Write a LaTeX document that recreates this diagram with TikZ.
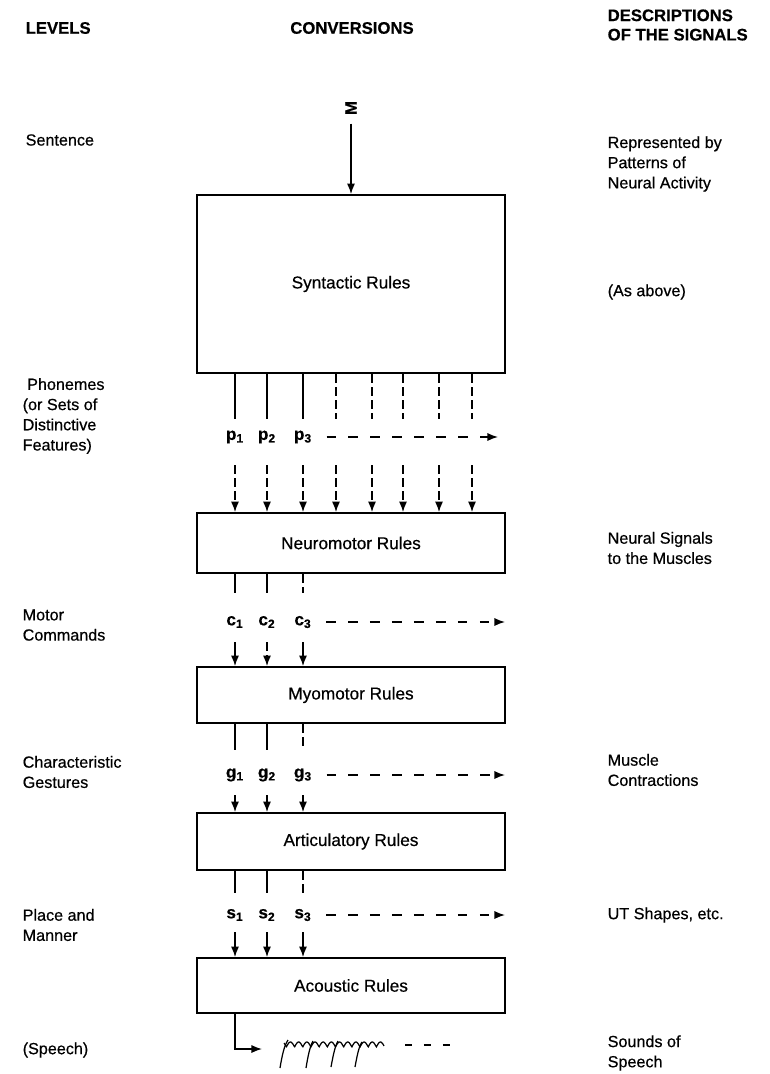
\documentclass[tikz,border=0pt]{standalone}
\usepackage{fontspec}
\setmainfont{Liberation Sans}[FakeBold=0.5]
\usetikzlibrary{arrows.meta}
\newcommand{\lvlfont}{\fontsize{9.2}{11.5}\selectfont}
\newcommand{\boxfont}{\fontsize{9.8}{11.5}\selectfont}
\newcommand{\headfont}{\fontsize{9.5}{11}\selectfont\bfseries}
\tikzset{
  rulebox/.style={draw, line width=1pt, minimum width=6.16cm, inner sep=0pt, font=\boxfont},
  txt/.style={anchor=west, align=left, inner sep=0pt, font=\lvlfont},
  head/.style={inner sep=0pt, font=\headfont},
  sig/.style={inner sep=1pt, font=\boxfont\bfseries},
  vdash/.style={dash pattern=on 5pt off 2.5pt},
  hdash/.style={dash pattern=on 5.5pt off 7pt},
}
\begin{document}
\begin{tikzpicture}[x=0.02cm, y=-0.02cm, >={Latex[length=6pt,width=4.6pt]}, line width=0.8pt]
  \useasboundingbox (0,0) rectangle (770,1074);

  % Column headings
  \node[head, anchor=west] (hlev) at (25,28) {LEVELS};
  \node[head] (hconv) at (352,28) {CONVERSIONS};
  \node[head, anchor=west, align=left] (hdesc) at (607,25) {DESCRIPTIONS\\OF THE SIGNALS};

  % Levels
  \node[txt] (lsent) at (25,140) {Sentence};
  \node[txt] (lphon) at (22,416) {\ Phonemes\\(or Sets of\\Distinctive\\Features)};
  \node[txt] (lmot) at (22,625) {Motor\\Commands};
  \node[txt] (lges) at (22,772) {Characteristic\\Gestures};
  \node[txt] (lpla) at (22,925) {Place and\\Manner};
  \node[txt] (lspe) at (22,1050) {(Speech)};

  % Descriptions
  \node[txt] (drep) at (607,164) {Represented by\\Patterns of\\Neural Activity};
  \node[txt] (dabo) at (607,292) {(As above)};
  \node[txt] (dneu) at (607,548) {Neural Signals\\to the Muscles};
  \node[txt] (dmus) at (607,770) {Muscle\\Contractions};
  \node[txt] (dshp) at (607,915) {UT Shapes, etc.};
  \node[txt] (dsnd) at (607,1053) {Sounds of\\Speech};

  % Rule boxes
  \node[rulebox, minimum height=3.56cm] (syn) at (351,284) {Syntactic Rules};
  \node[rulebox, minimum height=1.2cm] (neuro) at (351,543) {Neuromotor Rules};
  \node[rulebox, minimum height=1.12cm] (myo) at (351,695) {Myomotor Rules};
  \node[rulebox, minimum height=1.14cm] (art) at (351,841.5) {Articulatory Rules};
  \node[rulebox, minimum height=1.1cm] (aco) at (351,985.5) {Acoustic Rules};

  % Message input
  \node[head, rotate=90] (msg) at (351,108) {M};
  \draw[->] (msg.west) ++(0,8) -- (syn.north);

  % Phonemes
  \foreach \x/\s [count=\i] in {235/solid,267/solid,303/solid,336/vdash,372/vdash,403/vdash,439/vdash,472/vdash} {
    \coordinate (pt\i) at (\x,419);
    \coordinate (pb\i) at (\x,465);
    \draw[\s] (syn.south -| pt\i) -- (pt\i);
    \draw[vdash,->] (pb\i) -- (neuro.north -| pb\i);
  }
  \foreach \x [count=\i] in {235,267,303} \node[sig] (p\i) at (\x,437) {p\textsubscript{\i}};
  \coordinate (pend) at (498,437);
  \draw[hdash,->] (p3.east) ++(12,0) -- (pend);

  % Motor commands
  \foreach \x/\s/\t [count=\i] in {235/solid/solid,267/solid/vdash,303/vdash/solid} {
    \coordinate (ct\i) at (\x,593);
    \coordinate (cb\i) at (\x,642);
    \draw[\s] (neuro.south -| ct\i) -- (ct\i);
    \draw[\t,->] (cb\i) -- (myo.north -| cb\i);
    \node[sig] (c\i) at (\x,622) {c\textsubscript{\i}};
  }
  \coordinate (cend) at (505,622);
  \draw[hdash,->] (c3.east) ++(12,0) -- (cend);

  % Gestures
  \foreach \x/\s [count=\i] in {235/solid,267/solid,303/vdash} {
    \coordinate (gt\i) at (\x,750);
    \coordinate (gb\i) at (\x,795);
    \draw[\s] (myo.south -| gt\i) -- (gt\i);
    \draw[->] (gb\i) -- (art.north -| gb\i);
    \node[sig] (g\i) at (\x,775) {g\textsubscript{\i}};
  }
  \coordinate (gend) at (505,775);
  \draw[hdash,->] (g3.east) ++(12,0) -- (gend);

  % Place and manner
  \foreach \x/\s [count=\i] in {235/solid,267/solid,303/vdash} {
    \coordinate (st\i) at (\x,893);
    \coordinate (sb\i) at (\x,932);
    \draw[\s] (art.south -| st\i) -- (st\i);
    \draw[->] (sb\i) -- (aco.north -| sb\i);
    \node[sig] (s\i) at (\x,915) {s\textsubscript{\i}};
  }
  \coordinate (send) at (505,915);
  \draw[hdash,->] (s3.east) ++(12,0) -- (send);

  % Speech output
  \coordinate (sq) at (262,1049);
  \draw[->] (aco.south -| sb1) |- (sq);
  \draw[line width=0.7pt] plot[domain=284:384, samples=160] (\x, {1047 - 5*abs(sin(22*\x))});
  \draw[line width=0.7pt] (280,1068) .. controls (282,1056) and (284,1046) .. (288,1040);
  \draw[line width=0.7pt] (306,1068) .. controls (308,1056) and (310,1046) .. (313,1041);
  \draw[line width=0.7pt] (331,1067) .. controls (333,1056) and (335,1046) .. (338,1041);
  \draw[line width=0.7pt] (355,1067) .. controls (357,1056) and (359,1046) .. (362,1042);
  \draw[dash pattern=on 4pt off 6.75pt] (405,1045) -- (450,1045);
\end{tikzpicture}
\end{document}
